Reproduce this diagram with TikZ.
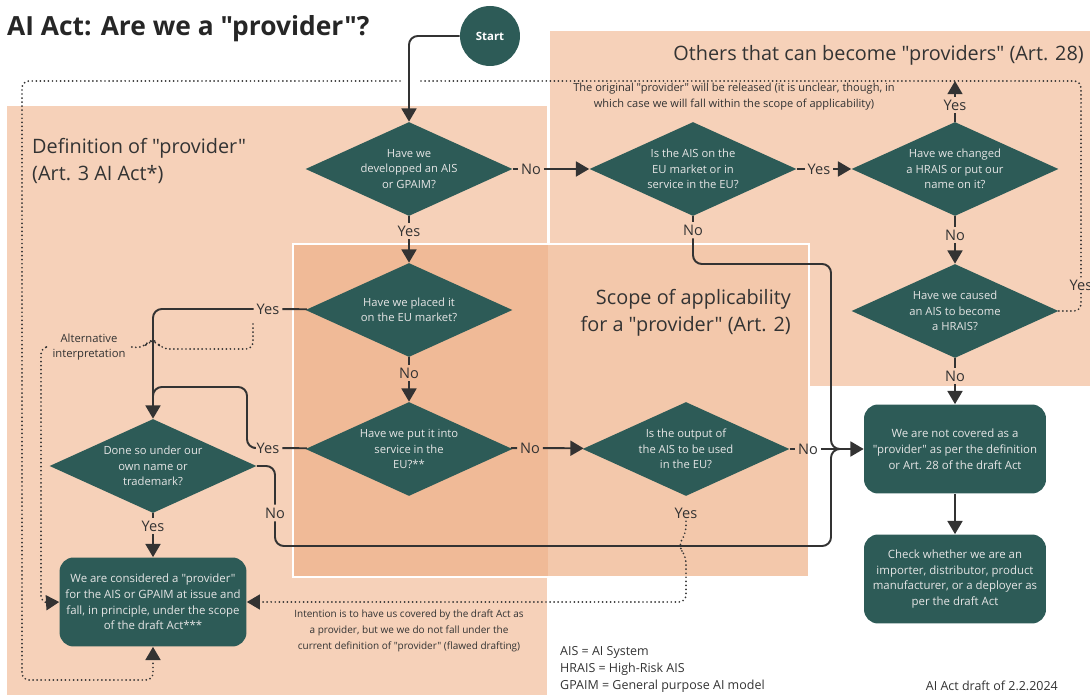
\documentclass[tikz,border=0pt]{standalone}
\usepackage{fontspec}
\setmainfont{Open Sans}[Ligatures=TeXOff]
\usetikzlibrary{shapes.geometric,arrows.meta}

\definecolor{peach}{HTML}{F6D1B9}
\definecolor{scopeL}{HTML}{F0BA97}
\definecolor{scopeR}{HTML}{F3C8AB}
\definecolor{pine}{HTML}{2D5B57}
\definecolor{ink}{HTML}{333333}

\begin{document}
\begin{tikzpicture}[x=0.02cm,y=-0.02cm,
	q/.style={diamond,aspect=2.2,fill=pine,text=white!90!black,minimum width=4.14cm,minimum height=1.88cm,inner sep=0pt,align=center,font=\fontsize{6.4}{8.8}\selectfont},
	res/.style={rectangle,rounded corners=8pt,fill=pine,text=white!90!black,minimum width=3.64cm,minimum height=1.78cm,align=center,font=\fontsize{6.5}{9}\selectfont},
	lbl/.style={text=ink,inner sep=1.5pt,font=\fontsize{8.3}{9}\selectfont},
	note/.style={text=ink,align=center,font=\fontsize{5.7}{9}\selectfont},
	legend/.style={text=ink,font=\fontsize{7.1}{8}\selectfont},
	head/.style={text=ink,font=\fontsize{11.3}{15.5}\selectfont},
	link/.style={draw=ink,line width=1.1pt,rounded corners=5pt},
	arr/.style={link,-{Triangle[length=7.5pt,width=8.5pt]}},
	dots/.style={draw=ink,line width=1.1pt,line cap=round,dash pattern=on 0pt off 2.3pt,rounded corners=4pt},
	darr/.style={dots,-{Triangle[length=7.5pt,width=8.5pt]}}]
	\useasboundingbox (0,0) rectangle (1090,695);

	% panels
	\fill[peach] (7,106) rectangle (547,695);
	\fill[peach] (550,31) rectangle (1090,386);
	\fill[scopeL] (293,244) rectangle (548,577);
	\fill[scopeR] (548,244) rectangle (809,577);
	\draw[white,line width=1.2pt] (293,244) rectangle (809,577);

	\node[anchor=west,text=black!85,font=\bfseries\fontsize{15}{17}\selectfont] (title) at (1,29) {AI Act: Are we a "provider"?};
	\node[head,anchor=west,align=left] (defhead) at (26,161) {Definition of "provider"\\(Art. 3 AI Act*)};
	\node[head,anchor=east] (othhead) at (1090,55) {Others that can become "providers" (Art. 28)};
	\node[head,anchor=east,align=right] (scohead) at (797,313) {Scope of applicability\\for a  "provider" (Art. 2)};

	% decisions and results
	\node[circle,fill=pine,minimum size=1.2cm,inner sep=0pt,text=white,font=\bfseries\fontsize{6.5}{7}\selectfont] (start) at (490,36) {Start};
	\node[q] (dev) at (409,169) {Have we\\developped an AIS\\or GPAIM?};
	\node[q] (onmkt) at (693,169) {Is the AIS on the\\EU market or in\\service in the EU?};
	\node[q] (chg) at (955,169) {Have we changed\\a HRAIS or put our\\name on it?};
	\node[q] (cause) at (955,311) {Have we caused\\an AIS to become\\a HRAIS?};
	\node[q] (placed) at (409,310) {Have we placed it\\on the EU market?};
	\node[q] (serv) at (409,449) {Have we put it into\\service in the\\EU?**};
	\node[q] (output) at (686,449) {Is the output of\\the AIS to be used\\in the EU?};
	\node[q] (own) at (153,466) {Done so under our\\own name or\\trademark?};
	\node[res] (isprov) at (153,602) {We are considered a "provider"\\for the AIS or GPAIM at issue and\\fall, in principle, under the scope\\of the draft Act***};
	\node[res] (notprov) at (955,449) {We are not covered as a\\"provider" as per the definition\\or Art. 28 of the draft Act};
	\node[res] (check) at (955,579) {Check whether we are an\\importer, distributor, product\\manufacturer, or a deployer as\\per the draft Act};

	% answers
	\foreach \n/\t/\x/\y in {no1/No/531/169, yes2/Yes/819/169, yes3/Yes/955/105, no3/No/955/235,
		no4/No/955/376, yes4/Yes/1081/285, no2/No/693/230, yes1/Yes/409/231, yes5/Yes/268/309,
		no5/No/409/373, yes6/Yes/268/448, no6/No/530/448, no7/No/808/449, yes7/Yes/686/513,
		no8/No/275/513, yes8/Yes/153/526}
		\node[lbl] (\n) at (\x,\y) {\t};

	\node[note,font=\fontsize{6.3}{9}\selectfont] (orig) at (734,97) {The original "provider" will be released (it is unclear, though, in\\which case we will fall within the scope of applicability)};
	\node[note,font=\fontsize{6.4}{9}\selectfont] (alt) at (89,347) {Alternative\\interpretation};
	\node[note] (intent) at (409,631) {Intention is to have us covered by the draft Act as\\a provider, but we we do not fall under the\\current definition of "provider" (flawed drafting)};

	\foreach \t [count=\i] in {AIS = AI System, HRAIS = High-Risk AIS, GPAIM = General purpose AI model}
		\node[legend,anchor=west] (leg\i) at (554,635+17*\i) {\t};
	\node[legend,anchor=east] (draft) at (1064,686) {AI Act draft of 2.2.2024};

	\coordinate (top3) at (955,81);
	\coordinate (gapR) at (417,81);
	\coordinate (gapL) at (400,81);
	\coordinate (outer) at (22,680);
	\coordinate (altS) at (253,324);
	\coordinate (altD) at (41,603);
	\coordinate (jR) at (831,264);
	\coordinate (jB) at (831,546);
	\coordinate (jin) at (850,449);
	\coordinate (jD) at (247,387);
	\coordinate (jE) at (153,405);

	% connectors
	\draw[arr] (start.west) -| (dev.north);
	\foreach \a/\b in {dev/no1, onmkt/yes2, chg/yes3, chg/no3, cause/no4, onmkt/no2, dev/yes1,
		placed/yes5, placed/no5, serv/yes6, serv/no6, output/no7, own/yes8}
		\draw[link] (\a) -- (\b);
	\foreach \a/\b in {no1/onmkt, yes2/chg, no3/cause, no4/notprov, yes1/placed, no5/serv,
		no6/output, no7/notprov, yes8/isprov, notprov/check, yes3/top3}
		\draw[arr] (\a) -- (\b);
	\draw[arr] (yes5.west) -| (own.north);
	\draw[link] (yes6.west) -| (jD) -| (jE);
	\draw[link] (no2) |- (jR) |- (jin);
	\draw[link] (own.east) -| (no8);
	\draw[link] (no8) |- (jB) |- (jin);

	% dotted ways
	\draw[dots] (cause.east) -| (yes4);
	\draw[dots] (yes4) |- (gapR);
	\draw[darr] (gapL) -| (outer) -| (isprov.south);
	\draw[dots] (altS) |- (162,349) -- (156,341) -- (149,341) -- (143,348) -- (alt.east);
	\draw[darr] (alt.west) -| (altD) -- (isprov.west);
	\draw[darr] (yes7) -- (686,533) -- (678,546) -- (686,556) |- (isprov.east);
\end{tikzpicture}
\end{document}
